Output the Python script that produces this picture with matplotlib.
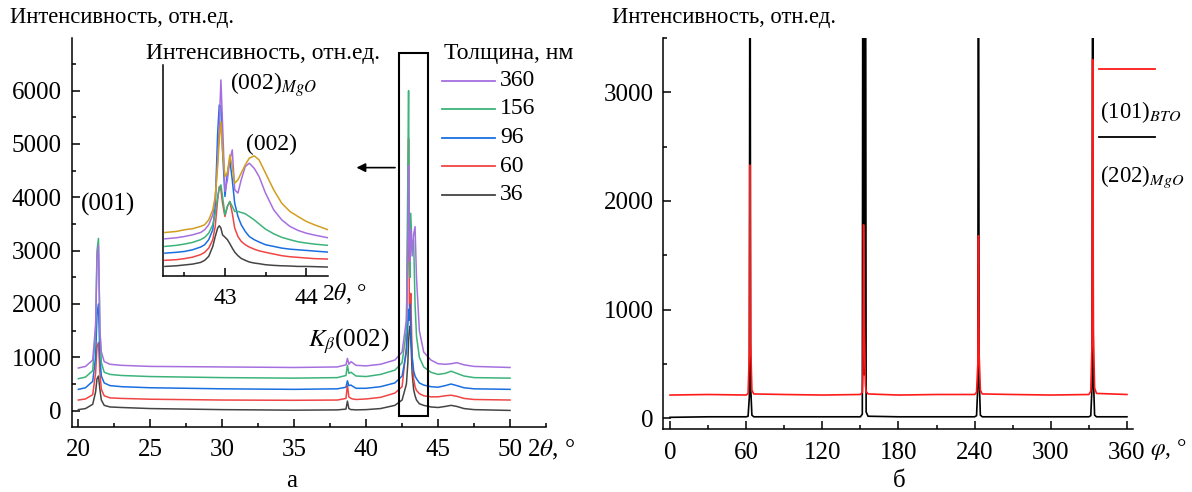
import matplotlib
matplotlib.use("Agg")
import matplotlib.pyplot as plt
from matplotlib.ticker import MultipleLocator
from matplotlib.patches import Rectangle
from matplotlib.lines import Line2D

# ---------------- data: panel (a), 2theta scans ----------------
two_theta = [20.0, 20.5, 21.0, 21.2, 21.3, 21.4, 21.5, 21.6, 21.8, 22.2,
             23.0, 25.0, 30.0, 35.0, 38.0, 38.6, 38.7, 38.8, 38.95, 39.05,
             39.3, 40.0, 41.0, 42.0, 42.5, 42.8, 42.9, 42.95, 43.0, 43.05,
             43.1, 43.2, 43.3, 43.4, 43.5, 43.7, 44.0, 44.5, 45.0, 45.5,
             45.9, 46.3, 46.8, 47.5, 50.0]

i_36 = [20, 40, 120, 350, 600, 650, 400, 200, 100, 70,
        60, 40, 20, 10, 15, 30, 180, 40, 20, 20,
        15, 20, 40, 100, 200, 500, 900, 1300, 1500, 1580,
        1400, 700, 400, 280, 200, 130, 100, 70, 60, 80,
        100, 80, 40, 20, 5]
i_60 = [200, 220, 300, 700, 1200, 1280, 700, 400, 280, 240,
        230, 215, 200, 195, 200, 230, 480, 260, 230, 220,
        210, 220, 250, 330, 450, 1200, 3500, 5100, 2000, 1700,
        2200, 1000, 600, 450, 380, 320, 280, 260, 260, 280,
        290, 270, 230, 210, 200]
i_96 = [400, 430, 550, 1000, 1800, 2000, 1000, 650, 520, 470,
        450, 430, 410, 400, 410, 440, 560, 470, 480, 460,
        420, 420, 450, 520, 650, 1100, 1600, 1900, 1700, 2000,
        1500, 1000, 750, 650, 600, 520, 480, 450, 440, 470,
        500, 470, 430, 410, 400]
i_156 = [600, 630, 750, 1500, 3000, 3230, 1500, 900, 720, 680,
         660, 640, 620, 610, 620, 660, 850, 700, 720, 700,
         650, 640, 680, 760, 900, 1500, 4500, 6000, 3000, 2500,
         3700, 3000, 3200, 2000, 1400, 1000, 820, 720, 680, 700,
         740, 700, 650, 620, 610]
i_360 = [800, 830, 950, 1600, 2900, 3100, 1500, 1100, 920, 870,
         850, 830, 820, 810, 820, 860, 980, 870, 920, 900,
         850, 840, 870, 950, 1100, 1700, 3000, 4600, 3200, 2800,
         3400, 2900, 3300, 3450, 2500, 1500, 1100, 950, 880, 870,
         880, 900, 860, 830, 810]

thickness_labels = ["360", "156", "96", "60", "36"]
thickness_series = [i_360, i_156, i_96, i_60, i_36]
thickness_colors = ["#a66fe0", "#3cb37a", "#1a6fe0", "#f04545", "#444444"]

# ---------------- data: inset (relative units) ----------------
inset_x = [42.26, 42.4, 42.5, 42.6, 42.7, 42.75, 42.8, 42.85, 42.88, 42.91,
           42.93, 42.95, 42.97, 43.0, 43.03, 43.06, 43.09, 43.12, 43.16, 43.2,
           43.25, 43.3, 43.36, 43.42, 43.5, 43.6, 43.7, 43.8, 43.9, 44.0,
           44.1, 44.27]
inset_gold = [20.5, 21.0, 21.8, 22.3, 23.4, 24.2, 26.5, 31.3, 37.6, 51.8,
              64.5, 73.1, 59.7, 47.1, 48.7, 57.3, 51.8, 43.9, 45.5, 48.7,
              52.6, 55.8, 56.9, 55.0, 48.7, 40.8, 34.4, 30.5, 28.1, 25.8,
              24.2, 21.8]
inset_360 = [17.5, 18.0, 18.6, 19.4, 20.5, 21.8, 24.2, 28.9, 36.0, 55.0,
             70.8, 92.9, 72.4, 40.0, 45.5, 55.0, 59.7, 40.8, 39.2, 45.5,
             51.8, 53.4, 51.0, 47.1, 39.2, 31.3, 26.5, 23.4, 21.5, 20.2,
             19.3, 18.0]
inset_156 = [13.9, 14.4, 15.0, 15.8, 17.1, 18.2, 20.2, 24.2, 29.7, 37.6,
             41.5, 43.1, 37.6, 28.9, 32.9, 35.2, 32.9, 30.5, 30.5, 30.0,
             29.4, 28.1, 26.5, 24.6, 22.1, 19.9, 18.2, 17.1, 16.1, 15.5,
             15.0, 14.4]
inset_96 = [10.7, 11.1, 11.5, 12.3, 13.6, 14.7, 17.1, 21.8, 32.9, 67.6,
            81.0, 80.3, 59.7, 37.6, 48.7, 55.0, 45.5, 34.4, 28.1, 24.2,
            21.0, 18.6, 17.1, 16.0, 14.7, 13.9, 13.1, 12.6, 12.3, 12.0,
            11.7, 11.2]
inset_60 = [7.3, 7.6, 8.1, 8.8, 10.0, 11.1, 13.1, 17.1, 23.4, 36.0,
            42.3, 40.8, 34.4, 28.1, 32.9, 35.2, 29.7, 22.6, 18.6, 16.3,
            14.7, 13.6, 12.6, 11.8, 11.1, 10.3, 9.5, 9.0, 8.7, 8.4,
            8.1, 7.9]
inset_36 = [4.4, 4.7, 5.1, 5.5, 6.3, 7.3, 9.2, 13.9, 18.6, 22.6,
            23.7, 22.6, 19.4, 18.3, 17.1, 15.2, 13.1, 11.2, 9.5, 8.2,
            7.3, 6.5, 6.0, 5.7, 5.2, 4.9, 4.7, 4.6, 4.4, 4.4,
            4.3, 4.1]
inset_series = [inset_36, inset_60, inset_96, inset_156, inset_360, inset_gold]
inset_colors = ["#444444", "#f04545", "#1a6fe0", "#3cb37a", "#a66fe0", "#d19f1f"]

# ---------------- data: panel (б), phi scans ----------------
phi = [0, 30, 60, 61.5, 62.5, 63, 63.5, 64.5, 66, 90,
       120, 150, 151.5, 152, 152.5, 153, 153.5, 154, 154.5, 156,
       180, 210, 240, 241.5, 242.5, 243, 243.5, 244.5, 246, 270,
       300, 330, 331.5, 332.5, 333, 333.5, 334.5, 336, 360]
phi_bto = [215, 220, 215, 230, 600, 2330, 700, 260, 225, 220,
           215, 220, 240, 400, 1780, 1000, 500, 300, 250, 225,
           215, 220, 220, 240, 500, 1680, 600, 260, 225, 220,
           215, 220, 250, 700, 3300, 800, 280, 230, 220]
phi_mgo = [10, 15, 15, 20, 200, 6000, 300, 30, 15, 15,
           15, 15, 40, 6000, 2000, 400, 2000, 6000, 60, 20,
           15, 15, 15, 25, 300, 6000, 400, 30, 15, 15,
           15, 15, 25, 300, 6000, 400, 30, 15, 15]
phi_labels = [r"(101)$_{BTO}$", r"(202)$_{MgO}$"]
phi_colors = ["#ff1a1a", "#000000"]

# ---------------- style ----------------
plt.rcParams["font.family"] = ["Liberation Serif", "DejaVu Serif"]
plt.rcParams["mathtext.fontset"] = "stix"
plt.rcParams["font.size"] = 16
plt.rcParams["axes.linewidth"] = 1.1

W, H = 1192, 492
TICK_FS = 18
LAB_FS = 16.3
ANN_FS = 18


def fx(px):
    return px / W


def fy(py):
    return 1 - py / H


fig = plt.figure(figsize=(W / 100, H / 100), dpi=100)


def style_axes(ax, fs=TICK_FS):
    for s in ("top", "right"):
        ax.spines[s].set_visible(False)
    ax.tick_params(which="both", direction="in", width=1.1, top=False, right=False,
                   labelsize=fs)
    ax.tick_params(which="major", length=5.5)
    ax.tick_params(which="minor", length=3)
    ax.tick_params(axis="y", pad=7)
    ax.tick_params(axis="x", pad=9)


# ---- panel a ----
ax1 = fig.add_axes([fx(71.7), fy(426.7), fx(546) - fx(71.7), fy(38.3) - fy(426.7)])
style_axes(ax1)
for ser, col in zip(thickness_series[::-1], thickness_colors[::-1]):
    ax1.plot(two_theta, ser, color=col, lw=1.1)
ax1.set_xlim(19.54, 52.5)
ax1.set_ylim(-300, 6980)
ax1.xaxis.set_major_locator(MultipleLocator(5))
ax1.xaxis.set_minor_locator(MultipleLocator(2.5))
ax1.yaxis.set_major_locator(MultipleLocator(1000))
ax1.yaxis.set_minor_locator(MultipleLocator(500))

ax1.add_patch(Rectangle((42.27, -100), 44.31 - 42.27, 6810, fill=False,
                        lw=1.5, ec="black", zorder=5, clip_on=False))
ax1.annotate("", xy=(39.33, 4556), xytext=(42.01, 4556),
             arrowprops=dict(arrowstyle="-|>", color="black", lw=1.2,
                             mutation_scale=13, shrinkA=0, shrinkB=0))
ax1.text(22.07, 3857, "(001)", ha="center", va="center", fontsize=ANN_FS)
ax1.text(35.98, 1200, r"$K_\beta$(002)", ha="left", va="baseline", fontsize=ANN_FS)

fig.text(fx(10), fy(18), "Интенсивность, отн.ед.", ha="left", va="center", fontsize=LAB_FS)
fig.text(fx(527), fy(450), r"2$\theta$, °", ha="left", va="center", fontsize=18)

# legend for panel a
fig.text(fx(444), fy(53), "Толщина, нм", ha="left", va="center", fontsize=17)
leg_y = [80.7, 109, 137.7, 166, 195]
for ly, lab, col in zip(leg_y, thickness_labels, thickness_colors):
    fig.add_artist(Line2D([fx(442), fx(495)], [fy(ly), fy(ly)], color=col, lw=1.3))
    fig.text(fx(500), fy(ly), lab, ha="left", va="center", fontsize=17)

# ---- inset ----
axi = fig.add_axes([fx(163.3), fy(275.7), fx(328) - fx(163.3), fy(65) - fy(275.7)])
style_axes(axi, fs=17)
for ser, col in zip(inset_series, inset_colors):
    axi.plot(inset_x, ser, color=col, lw=1.1)
axi.set_xlim(42.24, 44.27)
axi.set_ylim(0, 100)
axi.set_yticks([])
axi.xaxis.set_major_locator(MultipleLocator(1))
axi.xaxis.set_minor_locator(MultipleLocator(0.5))
axi.tick_params(axis="x", pad=9)
axi.text(43.06, 88.2, r"(002)$_{MgO}$", ha="left", va="baseline", fontsize=17)
axi.text(43.265, 59.7, "(002)", ha="left", va="baseline", fontsize=17)
fig.text(fx(146), fy(54), "Интенсивность, отн.ед.", ha="left", va="center", fontsize=17)
fig.text(fx(322), fy(293), r"2$\theta$, °", ha="left", va="center", fontsize=17)

# ---- panel б ----
ax2 = fig.add_axes([fx(663.3), fy(429.3), fx(1133.3) - fx(663.3), fy(37.8) - fy(429.3)])
style_axes(ax2)
ax2.plot(phi, phi_mgo, color=phi_colors[1], lw=1.2)
ax2.plot(phi, phi_bto, color=phi_colors[0], lw=1.2)
ax2.set_xlim(-5.3, 365)
ax2.set_ylim(-100, 3500)
ax2.xaxis.set_major_locator(MultipleLocator(60))
ax2.xaxis.set_minor_locator(MultipleLocator(30))
ax2.yaxis.set_major_locator(MultipleLocator(1000))
ax2.yaxis.set_minor_locator(MultipleLocator(500))

fig.text(fx(612), fy(18), "Интенсивность, отн.ед.", ha="left", va="center", fontsize=LAB_FS)
fig.text(fx(1150), fy(450), r"$\varphi$, °", ha="left", va="center", fontsize=17)

# legend for panel б
for ly, ty, lab, col in zip([69, 136.7], [118.3, 181.7], phi_labels, phi_colors):
    fig.add_artist(Line2D([fx(1099), fx(1155)], [fy(ly), fy(ly)], color=col, lw=1.3))
    fig.text(fx(1100), fy(ty), lab, ha="left", va="baseline", fontsize=16.5)

fig.text(fx(292), fy(487), "а", ha="center", va="baseline", fontsize=18)
fig.text(fx(899), fy(487), "б", ha="center", va="baseline", fontsize=18)

fig.savefig("out.png", dpi=100)
